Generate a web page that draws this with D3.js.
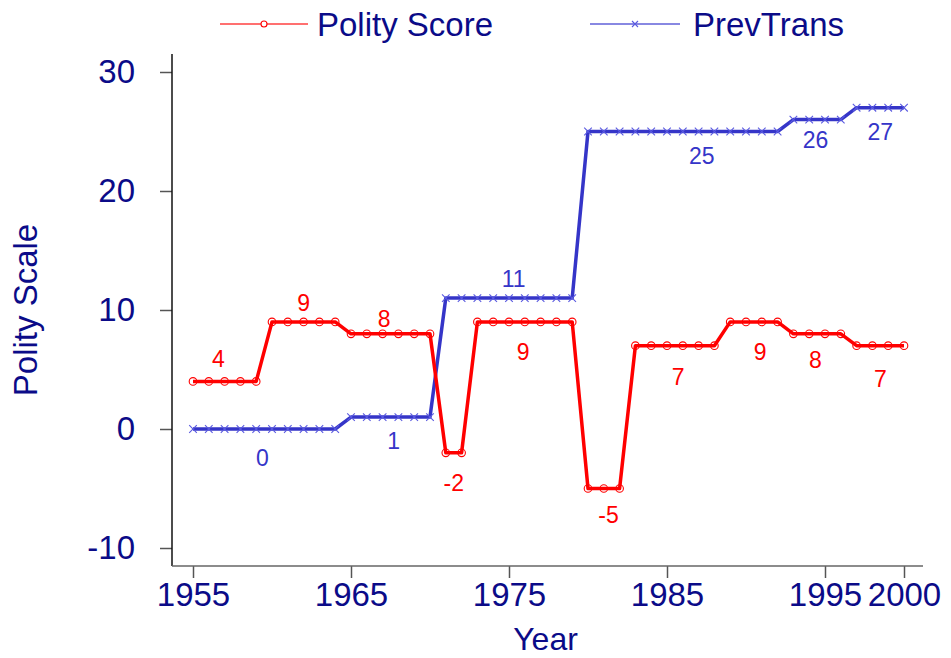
<!DOCTYPE html>
<html>
<head>
<meta charset="utf-8">
<script src="https://cdn.jsdelivr.net/npm/d3@7"></script>
<style>
  html, body { margin: 0; padding: 0; background: #fff; }
  svg { display: block; font-family: "Liberation Sans", Arial, sans-serif; }
</style>
</head>
<body>
<svg id="chart" width="951" height="658"></svg>
<script>
// ---- data ----
const years = d3.range(1955, 2001);
const polityScore = [4,4,4,4,4, 9,9,9,9,9, 8,8,8,8,8,8, -2,-2, 9,9,9,9,9,9,9, -5,-5,-5, 7,7,7,7,7,7, 9,9,9,9, 8,8,8,8, 7,7,7,7];
const prevTrans   = [0,0,0,0,0,0,0,0,0,0, 1,1,1,1,1,1, 11,11,11,11,11,11,11,11,11, 25,25,25,25,25,25,25,25,25,25,25,25,25, 26,26,26,26, 27,27,27,27];
const xTicks = [1955, 1965, 1975, 1985, 1995, 2000];
const yTicks = [-10, 0, 10, 20, 30];
// value annotations (year, data-value position, text)
const polityLabelYear = [1956.6, 1962.0, 1967.1, 1971.5, 1975.9, 1981.3, 1985.7, 1990.9, 1994.4, 1998.5];
const polityLabelPos  = [5.2, 9.9, 8.6, -5.2, 5.8, -7.9, 3.7, 5.8, 5.1, 3.5];
const polityLabelText = ["4", "9", "8", "-2", "9", "-5", "7", "9", "8", "7"];
const prevLabelYear = [1959.4, 1967.7, 1975.3, 1987.2, 1994.4, 1998.5];
const prevLabelPos  = [-3.1, -1.7, 11.9, 22.3, 23.6, 24.3];
const prevLabelText = ["0", "1", "11", "25", "26", "27"];
const seriesNames = ["Polity Score", "PrevTrans"];

// ---- layout ----
const svg = d3.select("#chart");
const navy = "#0b0b88";
const red = "#ff0000";
const blue = "#3535c8";
const blueMarker = "#5a5ae0";
const bigFont = "33px";

const xLeft = 172, xRight = 923, yTop = 54, yBottom = 566;
const x = d3.scaleLinear().domain([1955, 2000]).range([193, 904]);
const y = d3.scaleLinear().domain([-10, 30]).range([548, 72]);

// axes
const yAxis = svg.append("g").attr("transform", `translate(${xLeft},0)`)
  .call(d3.axisLeft(y).tickValues(yTicks).tickFormat(d => String(d)).tickSize(12).tickPadding(25).tickSizeOuter(0));
yAxis.select(".domain").remove();
yAxis.selectAll(".tick line").attr("stroke", "#555").attr("stroke-width", 1.5);
yAxis.selectAll(".tick text").attr("fill", navy).style("font-size", bigFont)
  .attr("font-family", "Liberation Sans, Arial, sans-serif");
svg.append("line").attr("x1", xLeft).attr("x2", xLeft).attr("y1", yTop).attr("y2", yBottom)
  .attr("stroke", "#111").attr("stroke-width", 1.5);

const xAxis = svg.append("g").attr("transform", `translate(0,${yBottom})`)
  .call(d3.axisBottom(x).tickValues(xTicks).tickFormat(d => String(d)).tickSize(12).tickPadding(5).tickSizeOuter(0));
xAxis.select(".domain").remove();
xAxis.selectAll(".tick line").attr("stroke", "#555").attr("stroke-width", 1.5);
xAxis.selectAll(".tick text").attr("fill", navy).style("font-size", bigFont)
  .attr("font-family", "Liberation Sans, Arial, sans-serif");
svg.append("line").attr("x1", xLeft).attr("x2", xRight).attr("y1", yBottom).attr("y2", yBottom)
  .attr("stroke", "#666").attr("stroke-width", 1.5);

// axis titles
svg.append("text").attr("x", (xLeft + xRight) / 2 - 2).attr("y", 650).attr("text-anchor", "middle")
  .attr("fill", navy).style("font-size", "32px").text("Year");
svg.append("text").attr("transform", `translate(37,${(yTop + yBottom) / 2}) rotate(-90)`)
  .attr("text-anchor", "middle").attr("fill", navy).style("font-size", bigFont).text("Polity Scale");

// lines
const line = d3.line().x((d, i) => x(years[i])).y(d => y(d));
svg.append("path").datum(prevTrans).attr("d", line).attr("fill", "none")
  .attr("stroke", blue).attr("stroke-width", 3.5).attr("stroke-linejoin", "round");
svg.append("path").datum(polityScore).attr("d", line).attr("fill", "none")
  .attr("stroke", red).attr("stroke-width", 3.5).attr("stroke-linejoin", "round");

// markers
const xMark = 3.8;
svg.append("g").selectAll("path").data(prevTrans).join("path")
  .attr("d", (d, i) => {
    const cx = x(years[i]), cy = y(d);
    return `M${cx - xMark},${cy - xMark}L${cx + xMark},${cy + xMark}M${cx - xMark},${cy + xMark}L${cx + xMark},${cy - xMark}`;
  })
  .attr("stroke", blueMarker).attr("stroke-width", 1.1).attr("fill", "none");
svg.append("g").selectAll("circle").data(polityScore).join("circle")
  .attr("cx", (d, i) => x(years[i])).attr("cy", d => y(d)).attr("r", 3.8)
  .attr("fill", "none").attr("stroke", red).attr("stroke-width", 1.1);

// value labels
svg.append("g").selectAll("text").data(polityLabelText).join("text")
  .attr("x", (d, i) => x(polityLabelYear[i])).attr("y", (d, i) => y(polityLabelPos[i]))
  .attr("text-anchor", "middle").attr("fill", red).style("font-size", "23px").text(d => d);
svg.append("g").selectAll("text").data(prevLabelText).join("text")
  .attr("x", (d, i) => x(prevLabelYear[i])).attr("y", (d, i) => y(prevLabelPos[i]))
  .attr("text-anchor", "middle").attr("fill", blue).style("font-size", "23px").text(d => d);

// legend
const legend = [
  {name: seriesNames[0], x0: 220, x1: 308, tx: 317, color: red, mark: "circle"},
  {name: seriesNames[1], x0: 590, x1: 680, tx: 693, color: blue, mark: "x"}
];
const ly = 24;
legend.forEach(l => {
  const g = svg.append("g");
  g.append("line").attr("x1", l.x0).attr("x2", l.x1).attr("y1", ly).attr("y2", ly)
    .attr("stroke", l.color === red ? "#ff4040" : "#6060d8").attr("stroke-width", 1.3);
  const cx = (l.x0 + l.x1) / 2;
  if (l.mark === "circle") {
    g.append("circle").attr("cx", cx).attr("cy", ly).attr("r", 3).attr("fill", "#fff")
      .attr("stroke", red).attr("stroke-width", 1.1);
  } else {
    const s = 3;
    g.append("path").attr("d", `M${cx - s},${ly - s}L${cx + s},${ly + s}M${cx - s},${ly + s}L${cx + s},${ly - s}`)
      .attr("stroke", blueMarker).attr("stroke-width", 1.1);
  }
  g.append("text").attr("x", l.tx).attr("y", ly + 12).attr("fill", navy)
    .style("font-size", bigFont).text(l.name);
});
</script>
</body>
</html>
